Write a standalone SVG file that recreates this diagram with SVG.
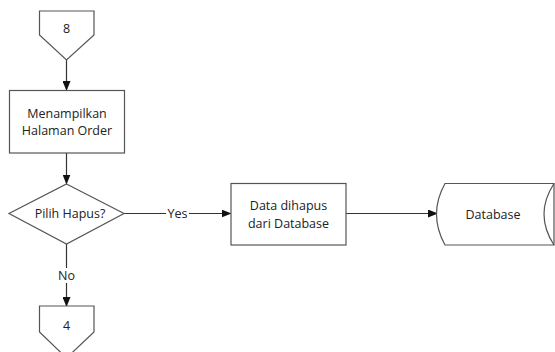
<svg xmlns="http://www.w3.org/2000/svg" width="555" height="352" viewBox="0 0 555 352">
<style>
.s{fill:#fff;stroke:#555;stroke-width:1.2}
.c{fill:none;stroke:#333;stroke-width:1.2}
text{font-family:"Open Sans","Noto Sans",sans-serif;font-size:12.5px;fill:#222;text-anchor:middle;dominant-baseline:central}
</style>
<defs>
<marker id="a" markerWidth="10" markerHeight="8" refX="9" refY="4" orient="auto" markerUnits="userSpaceOnUse">
<path d="M0,0 L10,4 L0,8 Z" fill="#111"/>
</marker>
</defs>
<rect width="555" height="352" fill="#fff"/>
<g id="connectors">
<line class="c" x1="66.5" y1="60" x2="66.5" y2="90" marker-end="url(#a)"/>
<line class="c" x1="66.5" y1="153" x2="66.5" y2="183.5" marker-end="url(#a)"/>
<line class="c" x1="124" y1="213.5" x2="230.5" y2="213.5" marker-end="url(#a)"/>
<line class="c" x1="66.5" y1="244" x2="66.5" y2="306" marker-end="url(#a)"/>
<line class="c" x1="346" y1="213.5" x2="437" y2="213.5" marker-end="url(#a)"/>
<rect x="166" y="207" width="23" height="13" fill="#fff"/>
<text x="177.5" y="213.5">Yes</text>
<rect x="56" y="268" width="21" height="15" fill="#fff"/>
<text x="66.5" y="275.5">No</text>
</g>
<g id="n8">
<path class="s" d="M39.5,11 H94 V35 L66.5,60 L39.5,35 Z"/>
<text x="66.5" y="28">8</text>
</g>
<g id="menampilkan">
<rect class="s" x="9.5" y="90.5" width="115" height="62.5"/>
<text x="67" y="113">Menampilkan</text>
<text x="67" y="130.5">Halaman Order</text>
</g>
<g id="pilih">
<path class="s" d="M66.5,184 L124,213.5 L66.5,244 L9,213.5 Z"/>
<text x="70" y="213.5">Pilih Hapus?</text>
</g>
<g id="hapus">
<rect class="s" x="231" y="183.5" width="115" height="61.5"/>
<text x="288.5" y="205">Data dihapus</text>
<text x="288.5" y="223">dari Database</text>
</g>
<g id="database">
<path class="s" d="M445,183.5 H554 V245 H445 Q428,214.25 445,183.5 Z"/>
<path class="c" style="stroke:#555" d="M554,183.5 Q534,214.25 554,245"/>
<text x="493" y="214">Database</text>
</g>
<g id="n4">
<path class="s" d="M39.5,306 H94 V332 L66.5,358 L39.5,332 Z"/>
<text x="66.5" y="325">4</text>
</g>
</svg>
